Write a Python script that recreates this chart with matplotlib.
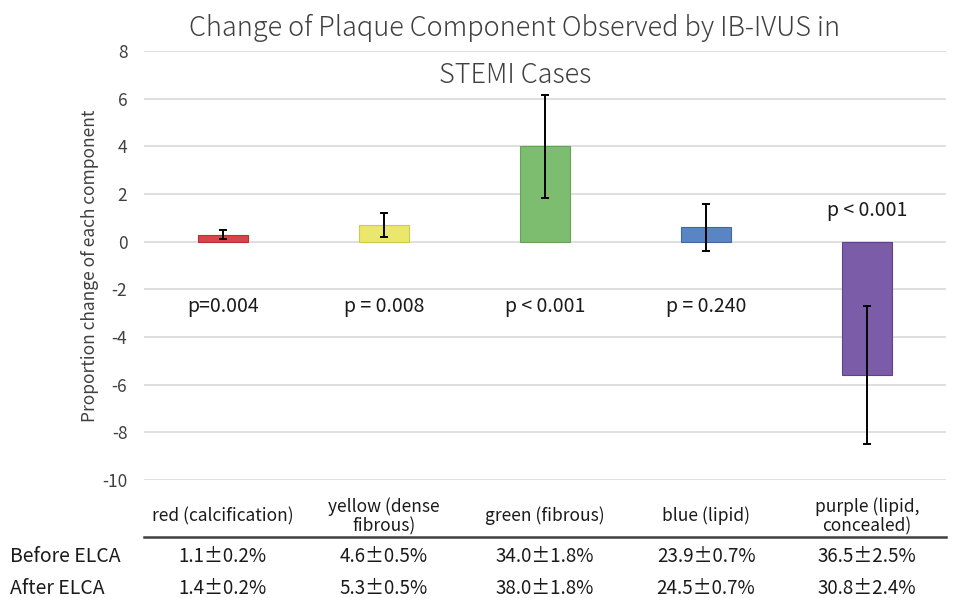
import matplotlib.pyplot as plt
from matplotlib.transforms import blended_transform_factory
from matplotlib.lines import Line2D
import numpy as np

plt.rcParams['font.family'] = ['Noto Sans CJK JP', 'DejaVu Sans']
plt.rcParams['axes.unicode_minus'] = False

# data
categories = ["red (calcification)", "yellow (dense\nfibrous)", "green (fibrous)",
              "blue (lipid)", "purple (lipid,\nconcealed)"]
change = [0.3, 0.7, 4.0, 0.6, -5.6]
change_err = [0.2, 0.5, 2.15, 1.0, 2.9]
p_labels = ["p=0.004", "p = 0.008", "p < 0.001", "p = 0.240", "p < 0.001"]
p_y = [-2.7, -2.7, -2.7, -2.7, 1.3]
before = ["1.1±0.2%", "4.6±0.5%", "34.0±1.8%", "23.9±0.7%", "36.5±2.5%"]
after = ["1.4±0.2%", "5.3±0.5%", "38.0±1.8%", "24.5±0.7%", "30.8±2.4%"]
row_names = ["Before ELCA", "After ELCA"]
colors = ["#d9444a", "#ebe66c", "#7dbd70", "#5a85c4", "#7b5ca8"]
edges = ["#b83036", "#cfc94c", "#64a457", "#41699f", "#5f4289"]

W, H = 957, 598
fig = plt.figure(figsize=(W / 100, H / 100), dpi=100)
ax = fig.add_axes([144 / W, 1 - 480 / H, 802 / W, 429 / H])

x = np.arange(len(categories))
ax.bar(x, change, width=0.31, color=colors, edgecolor=edges, linewidth=0.8, zorder=2)
ax.errorbar(x, change, yerr=change_err, fmt='none', ecolor='black',
            elinewidth=1.4, capsize=3, capthick=1.4, zorder=3)

for xi, lab, yy in zip(x, p_labels, p_y):
    ax.text(xi, yy, lab, ha='center', va='center', fontsize=14, color='#1a1a1a')

ax.set_xlim(-0.49, 4.49)
ax.set_ylim(-10, 8)
ax.set_yticks(np.arange(-10, 9, 2))
ax.tick_params(axis='y', length=0, labelsize=12.5, labelcolor='#404040', pad=12)
ax.set_xticks([])
ax.grid(axis='y', color='#d9d9d9', linewidth=1.2, zorder=0)
for s in ax.spines.values():
    s.set_visible(False)
ax.set_ylabel("Proportion change of each component", fontsize=12.5, color='#404040',
              labelpad=2)

fig.text(515 / W, 1 - 28 / H, "Change of Plaque Component Observed by IB-IVUS in",
         ha='center', va='center', fontsize=19.5, color='#404040', fontweight='light')
fig.text(515 / W, 1 - 75 / H, "STEMI Cases",
         ha='center', va='center', fontsize=19.5, color='#404040', fontweight='light')

# table under the chart
tr = blended_transform_factory(ax.transData, fig.transFigure)
for xi, cat in zip(x, categories):
    ax.text(xi, 1 - 516 / H, cat, transform=tr, ha='center', va='center',
            fontsize=12.5, color='#1a1a1a', linespacing=1.1)

for xi, b, a in zip(x, before, after):
    ax.text(xi, 1 - 557 / H, b, transform=tr, ha='center', va='center', fontsize=13.5,
            color='#1a1a1a')
    ax.text(xi, 1 - 589 / H, a, transform=tr, ha='center', va='center', fontsize=13.5,
            color='#1a1a1a')

fig.text(10 / W, 1 - 557 / H, row_names[0], ha='left', va='center', fontsize=14,
         color='#1a1a1a')
fig.text(10 / W, 1 - 589 / H, row_names[1], ha='left', va='center', fontsize=14,
         color='#1a1a1a')

line_tr = blended_transform_factory(ax.transAxes, fig.transFigure)
fig.add_artist(Line2D([0, 1], [1 - 537 / H, 1 - 537 / H], transform=line_tr,
                      color='#404040', linewidth=1.8))

fig.savefig("out.png", dpi=100)
